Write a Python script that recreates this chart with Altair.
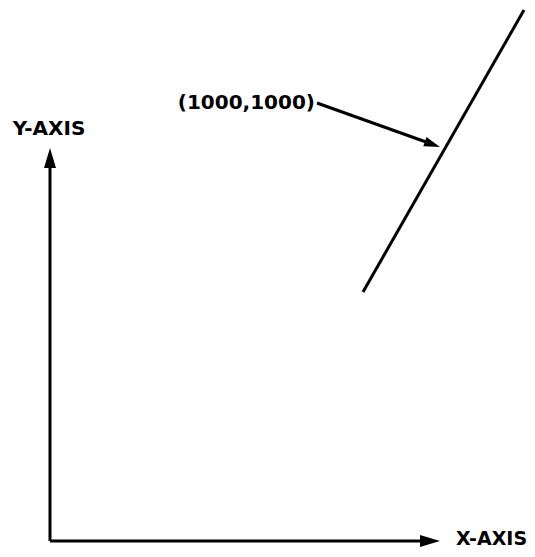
import altair as alt
import numpy as np
import pandas as pd

# Diagram units: origin at the corner of the axes, y pointing up
seg_names = ["y_axis", "x_axis", "line", "pointer"]
seg_x1 = [0, 0, 313, 267]
seg_y1 = [0, 0, 249, 438]
seg_x2 = [0, 390, 474, 390]
seg_y2 = [393, 0, 531, 394]
seg_arrow = [True, True, False, True]
head_len = [20, 20, 0, 16]

labels = ["Y-AXIS", "X-AXIS", "(1000,1000)"]
label_x = [-1, 406, 265]
label_y = [412, 2, 438]
label_size = [20, 19, 20]
label_align = ["center", "left", "right"]

x1 = np.array(seg_x1, float); y1 = np.array(seg_y1, float)
x2 = np.array(seg_x2, float); y2 = np.array(seg_y2, float)
dx = x2 - x1; dy = y2 - y1
ln = np.hypot(dx, dy)
ux = dx / ln; uy = dy / ln
hl = np.array(head_len, float)
# shorten arrow shafts so they end inside the heads
ex = x2 - ux * hl * 0.6
ey = y2 - uy * hl * 0.6
ang = (np.degrees(np.arctan2(-dy, dx)) + 360) % 360

segs = pd.DataFrame({"name": seg_names, "x": x1, "y": y1, "x2": ex, "y2": ey})
heads = pd.DataFrame({"name": seg_names, "x": x2, "y": y2, "angle": ang,
                      "size": (2 * hl) ** 2, "arrow": seg_arrow})
heads = heads[heads["arrow"]]
texts = pd.DataFrame({"label": labels, "x": label_x, "y": label_y,
                      "size": label_size, "align": label_align})

xs = alt.Scale(domain=[-42, 477], nice=False, zero=False)
ys = alt.Scale(domain=[-8, 533], nice=False, zero=False)

rules = alt.Chart(segs).mark_rule(color="black", strokeWidth=3).encode(
    x=alt.X("x:Q", scale=xs, axis=None),
    y=alt.Y("y:Q", scale=ys, axis=None),
    x2="x2:Q", y2="y2:Q",
)

arrowheads = alt.Chart(heads).mark_point(
    shape="M0,0L-1,-0.3L-1,0.3Z", filled=True, fill="black", stroke=None, opacity=1
).encode(
    x=alt.X("x:Q", scale=xs, axis=None),
    y=alt.Y("y:Q", scale=ys, axis=None),
    angle=alt.Angle("angle:Q", scale=None),
    size=alt.Size("size:Q", scale=None, legend=None),
)

def text_layer(align):
    return alt.Chart(texts[texts["align"] == align]).mark_text(
        align=align, baseline="middle", font="DejaVu Sans", fontWeight="bold",
        color="black"
    ).encode(
        x=alt.X("x:Q", scale=xs, axis=None),
        y=alt.Y("y:Q", scale=ys, axis=None),
        size=alt.Size("size:Q", scale=None, legend=None),
        text="label:N",
    )

chart = alt.layer(
    rules, arrowheads, text_layer("center"), text_layer("left"), text_layer("right")
).properties(
    width=519, height=541, padding=0,
    autosize=alt.AutoSizeParams(type="none"),
    background="white",
).configure_view(stroke=None)

chart.save("out.html", embed_options={"renderer": "svg", "actions": False})
